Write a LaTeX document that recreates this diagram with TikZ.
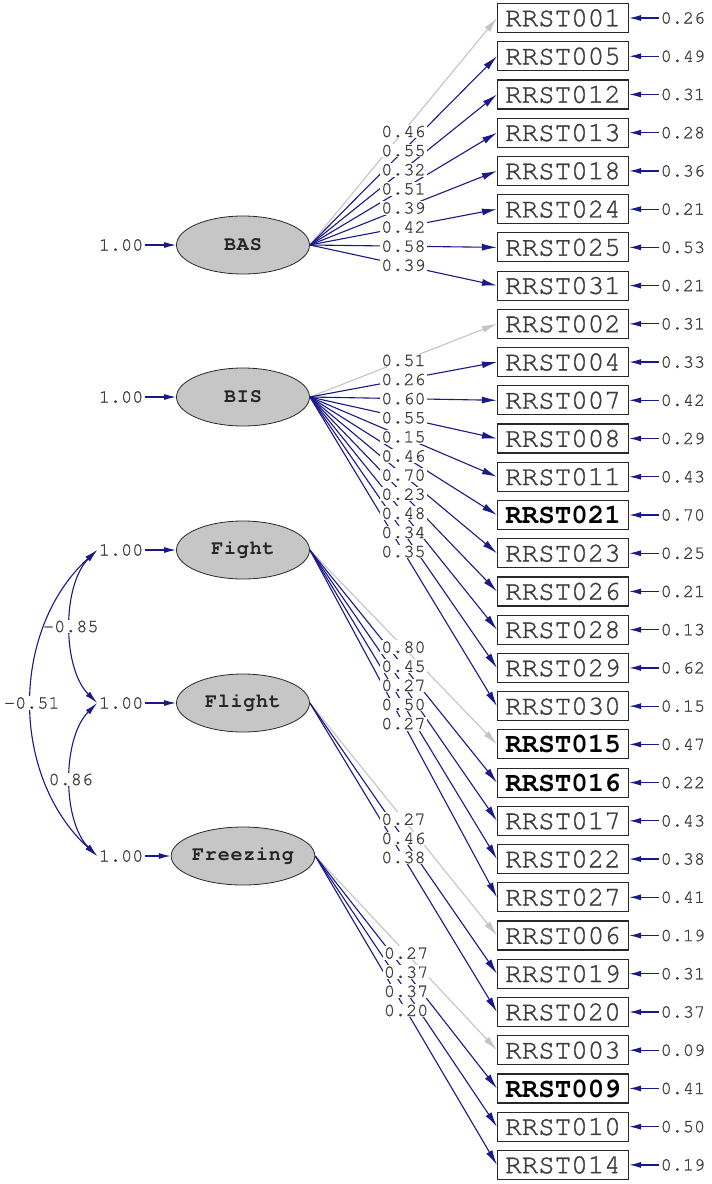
\documentclass[tikz,border=0pt]{standalone}
\usepackage{fontspec}
\setmonofont{texgyrecursor-regular.otf}[BoldFont=texgyrecursor-bold.otf]
\newfontfamily\monomed{texgyrecursor-regular.otf}[FakeBold=1.2]
\newfontfamily\monolab{texgyrecursor-regular.otf}[FakeBold=1.0]
\newfontfamily\monobold{texgyrecursor-bold.otf}
\usetikzlibrary{arrows.meta,shapes.geometric}
\definecolor{nv}{RGB}{25,25,135}
\definecolor{lg}{RGB}{196,196,196}
\definecolor{tx}{RGB}{60,60,60}
\definecolor{bx}{RGB}{40,40,40}
\definecolor{latfill}{RGB}{198,198,198}
\begin{document}
\begin{tikzpicture}[x=1pt,y=-1pt,
 obs/.style={draw=bx, line width=1.1pt, minimum width=131pt, minimum height=29pt, inner sep=0pt,
   font=\monomed\fontsize{27.5}{27.5}\selectfont, text=tx},
 obsb/.style={obs, font=\monobold\fontsize{27.5}{27.5}\selectfont, text=black},
 lat/.style={ellipse, draw=bx, fill=latfill, line width=0.8pt, minimum width=133pt, minimum height=58pt,
   inner sep=0pt, font=\monobold\fontsize{20}{20}\selectfont\addfontfeature{LetterSpace=4}, text=black!85},
 num/.style={font=\monolab\fontsize{18.5}{18.5}\selectfont, text=tx, inner sep=1.5pt},
 lab/.style={num, fill=white, inner sep=1pt},
 ld/.style={line width=1.1pt, -{Latex[length=15pt,width=7pt]}},
 err/.style={draw=nv, line width=1.2pt, -{Latex[length=12pt,width=6pt]}},
 cov/.style={draw=nv, line width=1.1pt, {Latex[length=13pt,width=6pt]}-{Latex[length=13pt,width=6pt]}}
]
\useasboundingbox[fill=white] (0,0) rectangle (712,1184);

% observed variables
\foreach \id/\st/\e [count=\i from 0] in {
 001/obs/0.26, 005/obs/0.49, 012/obs/0.31, 013/obs/0.28, 018/obs/0.36, 024/obs/0.21, 025/obs/0.53, 031/obs/0.21,
 002/obs/0.31, 004/obs/0.33, 007/obs/0.42, 008/obs/0.29, 011/obs/0.43, 021/obsb/0.70, 023/obs/0.25, 026/obs/0.21,
 028/obs/0.13, 029/obs/0.62, 030/obs/0.15, 015/obsb/0.47, 016/obsb/0.22, 017/obs/0.43, 022/obs/0.38, 027/obs/0.41,
 006/obs/0.19, 019/obs/0.31, 020/obs/0.37, 003/obs/0.09, 009/obsb/0.41, 010/obs/0.50, 014/obs/0.19}{
 \node[\st] (r\id) at (563,{18+38.23*\i}) {RRST\id};
 \node[num, anchor=west] (e\id) at (659,{18+38.23*\i}) {\e};
 \draw[err] (e\id.west) -- (r\id.east);
}

% latent variables
\foreach \n/\y in {BAS/245, BIS/397, Fight/550, Flight/703, Freezing/856}{
 \node[lat] (\n) at (243,\y) {\n};
 \node[num, anchor=east] (v\n) at (145,\y) {1.00};
 \draw[err] (v\n.east) -- (\n.west);
}

% loadings
\foreach \f/\t/\v/\c in {
 BAS/001/0.46/lg, BAS/005/0.55/nv, BAS/012/0.32/nv, BAS/013/0.51/nv, BAS/018/0.39/nv, BAS/024/0.42/nv, BAS/025/0.58/nv, BAS/031/0.39/nv,
 BIS/002/0.51/lg, BIS/004/0.26/nv, BIS/007/0.60/nv, BIS/008/0.55/nv, BIS/011/0.15/nv, BIS/021/0.46/nv, BIS/023/0.70/nv, BIS/026/0.23/nv,
 BIS/028/0.48/nv, BIS/029/0.34/nv, BIS/030/0.35/nv,
 Fight/015/0.80/lg, Fight/016/0.45/nv, Fight/017/0.27/nv, Fight/022/0.50/nv, Fight/027/0.27/nv,
 Flight/006/0.27/lg, Flight/019/0.46/nv, Flight/020/0.38/nv,
 Freezing/003/0.27/lg, Freezing/009/0.37/nv, Freezing/010/0.37/nv, Freezing/014/0.20/nv}{
 \draw[ld, draw=\c] (\f.east) -- (r\t.west);
}
\foreach \f/\t/\v in {
 BAS/001/0.46, BAS/005/0.55, BAS/012/0.32, BAS/013/0.51, BAS/018/0.39, BAS/024/0.42, BAS/025/0.58, BAS/031/0.39,
 BIS/002/0.51, BIS/004/0.26, BIS/007/0.60, BIS/008/0.55, BIS/011/0.15, BIS/021/0.46, BIS/023/0.70, BIS/026/0.23,
 BIS/028/0.48, BIS/029/0.34, BIS/030/0.35,
 Fight/015/0.80, Fight/016/0.45, Fight/017/0.27, Fight/022/0.50, Fight/027/0.27,
 Flight/006/0.27, Flight/019/0.46, Flight/020/0.38,
 Freezing/003/0.27, Freezing/009/0.37, Freezing/010/0.37, Freezing/014/0.20}{
 \path (\f.east) -- (r\t.west) node[lab, pos=0.5] {\v};
}

% covariances
\draw[cov] (vFight.west) .. controls (62,585) and (62,668) .. (vFlight.west) node[lab, pos=0.5] {-0.85};
\draw[cov] (vFlight.west) .. controls (62,738) and (62,821) .. (vFreezing.west) node[lab, pos=0.5] {0.86};
\draw[cov] (vFight.west) .. controls (10,630) and (10,776) .. (vFreezing.west) node[lab, pos=0.5] {-0.51};
\end{tikzpicture}
\end{document}
